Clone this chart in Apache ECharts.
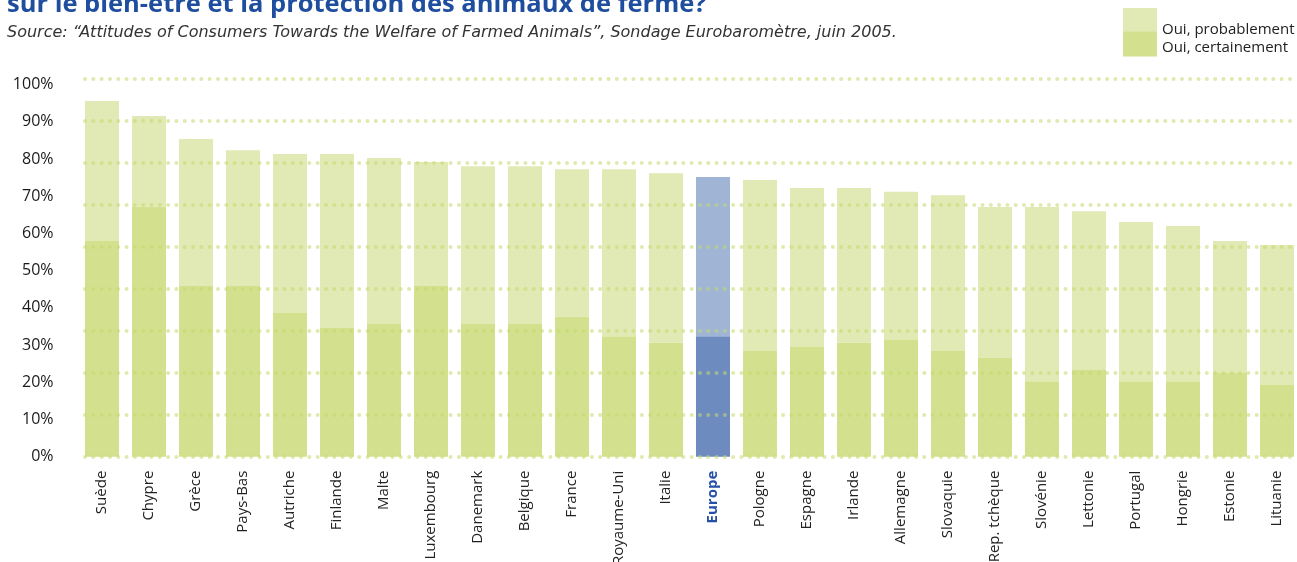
<!DOCTYPE html>
<html>
<head>
<meta charset="utf-8">
<script src="https://cdn.jsdelivr.net/npm/echarts@6/dist/echarts.min.js"></script>
<style>
  html, body { margin: 0; padding: 0; background: #fff; }
  #chart { width: 1297px; height: 562px; }
</style>
</head>
<body>
<div id="chart"></div>
<script>
// pays, du plus favorable au moins favorable
const countries = ["Suède", "Chypre", "Grèce", "Pays-Bas", "Autriche", "Finlande", "Malte", "Luxembourg",
  "Danemark", "Belgique", "France", "Royaume-Uni", "Italie", "Europe", "Pologne", "Espagne", "Irlande",
  "Allemagne", "Slovaquie", "Rep. tchèque", "Slovénie", "Lettonie", "Portugal", "Hongrie", "Estonie", "Lituanie"];

// "Oui, certainement" (%)
const certainement = [58.0, 67.2, 45.9, 45.9, 38.6, 34.6, 35.7, 45.9, 35.7, 35.7, 37.6, 32.4, 30.6,
  32.4, 28.4, 29.5, 30.6, 31.6, 28.4, 26.5, 20.3, 23.3, 20.3, 20.3, 22.5, 19.3];

// "Oui, probablement" (%) empilé au-dessus
const probablement = [37.6, 24.4, 39.5, 36.5, 42.8, 46.8, 44.6, 33.3, 42.4, 42.4, 39.7, 44.9, 45.6,
  42.8, 46.0, 42.7, 41.6, 39.6, 41.9, 40.6, 46.8, 42.7, 42.8, 41.7, 35.5, 37.6];

const yTicks = [0, 10, 20, 30, 40, 50, 60, 70, 80, 90, 100];

const highlight = "Europe";
const greenDark = "#d3e18e";
const greenLight = "#e1eab4";
const blueDark = "#6e8bc0";
const blueLight = "#a0b4d5";
const FONT = "Open Sans";

const chart = echarts.init(document.getElementById("chart"));

const xData = countries.map((c) =>
  c === highlight
    ? { value: c, textStyle: { color: "#2650a8", fontWeight: "bold" } }
    : c
);

// légende : texte décalé vers le bas par rapport au carré de couleur
function legendItem(name, top, height, shift) {
  return {
    data: [name],
    left: 1123,
    top: top,
    padding: 0,
    itemWidth: 34,
    itemHeight: height,
    icon: "rect",
    selectedMode: false,
    formatter: (n) => "\n{a|" + n + "}",
    textStyle: {
      fontFamily: FONT,
      fontSize: 15,
      color: "#222",
      lineHeight: shift * 2,
      rich: { a: { fontFamily: FONT, fontSize: 15, color: "#222", lineHeight: 18 } },
    },
  };
}

const option = {
  animation: false,
  backgroundColor: "#fff",
  textStyle: { fontFamily: FONT },
  title: [
    {
      text: "sur le bien-être et la protection des animaux de ferme?",
      left: 7,
      top: -8,
      padding: 0,
      textStyle: { fontFamily: FONT, fontSize: 25.5, fontWeight: "bold", color: "#1f4e9f" },
    },
    {
      text: "Source: “Attitudes of Consumers Towards the Welfare of Farmed Animals”, Sondage Eurobaromètre, juin 2005.",
      left: 7,
      top: 25,
      padding: 0,
      textStyle: { fontFamily: "DejaVu Sans", fontSize: 16, fontStyle: "italic", fontWeight: "normal", color: "#333" },
    },
  ],
  legend: [
    legendItem("Oui, probablement", 1, 24, 10),
    legendItem("Oui, certainement", 27.5, 25, 4),
  ],
  grid: [
    // barres
    { left: 78.5, width: 1222, top: 84.7, bottom: 105.3, outerBoundsMode: "none", containLabel: false },
    // lignes pointillées décoratives
    { left: 85, right: 0, top: 78.3, bottom: 105.3, outerBoundsMode: "none", containLabel: false },
  ],
  xAxis: [
    {
      type: "category",
      gridIndex: 0,
      data: xData,
      axisLine: { show: false },
      axisTick: { show: false },
      axisLabel: { rotate: 90, margin: 14, fontSize: 15, color: "#222", fontFamily: FONT, interval: 0 },
    },
    { type: "value", gridIndex: 1, show: false, min: 0, max: 1 },
  ],
  yAxis: [
    {
      type: "value",
      gridIndex: 0,
      min: yTicks[0],
      max: yTicks[yTicks.length - 1],
      interval: 10,
      axisLine: { show: false },
      axisTick: { show: false },
      splitLine: { show: false },
      axisLabel: { margin: 25, fontSize: 16, color: "#1a1a1a", fontFamily: FONT, formatter: "{value}%" },
    },
    {
      type: "value",
      gridIndex: 1,
      min: 0,
      max: 9,
      interval: 1,
      z: 5,
      axisLine: { show: false },
      axisTick: { show: false },
      axisLabel: { show: false },
      splitLine: {
        show: true,
        lineStyle: { color: "rgba(195,218,110,0.55)", width: 4, cap: "round", type: [0.01, 8.3] },
      },
    },
  ],
  series: [
    {
      name: "Oui, certainement",
      type: "bar",
      stack: "total",
      barWidth: 34,
      xAxisIndex: 0,
      yAxisIndex: 0,
      itemStyle: { color: greenDark },
      data: certainement.map((v, i) =>
        countries[i] === highlight ? { value: v, itemStyle: { color: blueDark } } : v
      ),
    },
    {
      name: "Oui, probablement",
      type: "bar",
      stack: "total",
      barWidth: 34,
      xAxisIndex: 0,
      yAxisIndex: 0,
      itemStyle: { color: greenLight },
      data: probablement.map((v, i) =>
        countries[i] === highlight ? { value: v, itemStyle: { color: blueLight } } : v
      ),
    },
  ],
};

chart.setOption(option);
</script>
</body>
</html>
